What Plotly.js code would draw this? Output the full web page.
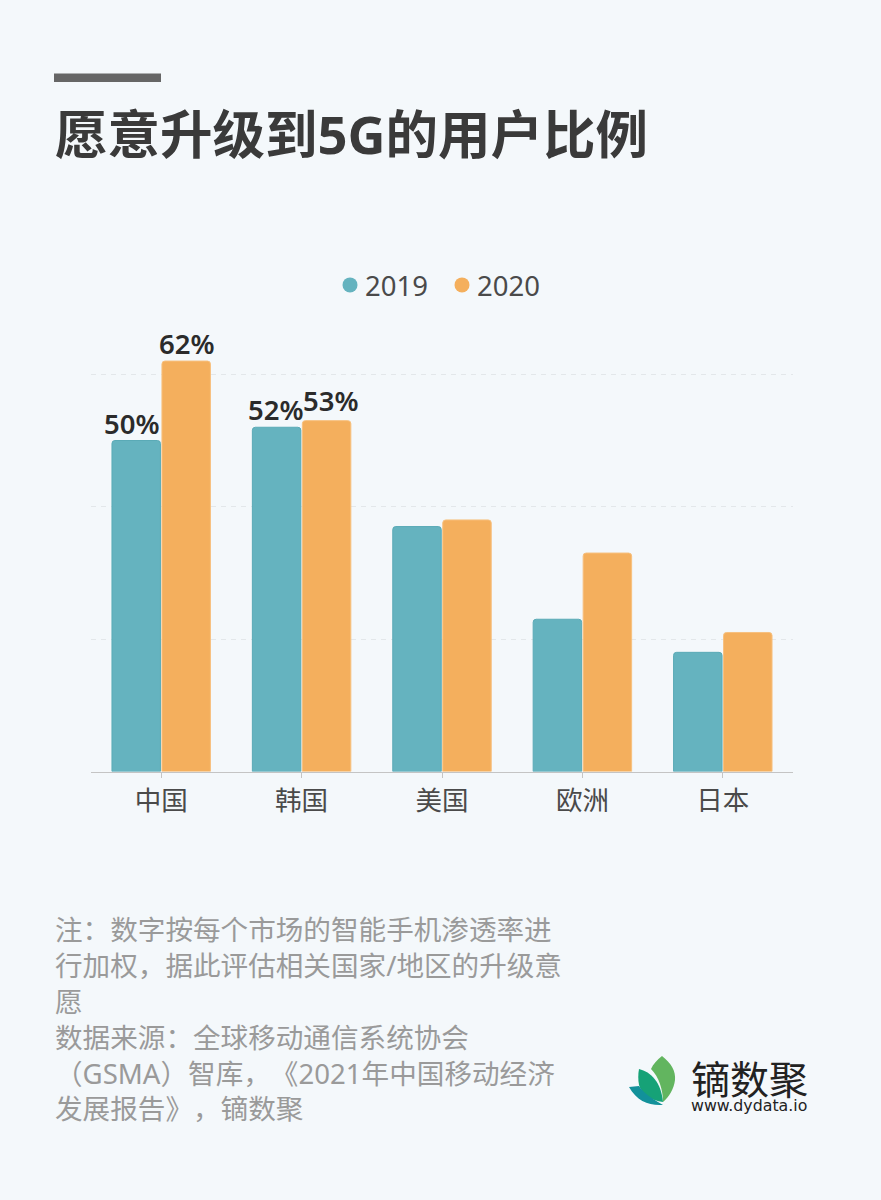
<!DOCTYPE html>
<html><head><meta charset="utf-8">
<script src="https://cdn.plot.ly/plotly-3.0.1.min.js"></script>
<style>html,body{margin:0;padding:0;background:#f4f8fb}
text{text-spacing-trim:space-all;font-feature-settings:"palt" 0}
.legend .legendpoints{transform:translateX(5px)}</style></head>
<body><div id="chart" style="width:881px;height:1200px"></div>
<script>
const categories = ["中国","韩国","美国","欧洲","日本"];
const values2019 = [50,52,37,23,18];
const values2020 = [62,53,38,33,21];
const labels2019 = ["50%","52%","","",""];
const labels2020 = ["62%","53%","","",""];
const labelNudge2019 = [-4,0,0,0,0];
const labelNudge2020 = [0,4,0,0,0];
const labelLift2019 = [-3,-3,0,0,0];
const labelLift2020 = [-3,0,0,0,0];
const seriesNames = ["2019","2020"];
const titleText = "愿意升级到5G的用户比例";
const noteText = "注：数字按每个市场的智能手机渗透率进<br>行加权，据此评估相关国家/地区的升级意<br>愿<br>数据来源：全球移动通信系统协会<br>（GSMA）智库，《2021年中国移动经济<br>发展报告》，镝数聚";
const logoName = "镝数聚";
const logoUrl = "www.dydata.io";

const W=881,H=1200;
const px=x=>x/W, py=y=>1-y/H;
const CJK='"Noto Sans","Noto Sans CJK SC",sans-serif';
const teal="#65b3bf", orange="#f4af5d";

const bar=(name,vals,col,line)=>({type:"bar",name,x:categories,y:vals,showlegend:false,
  marker:{color:col,line:{color:line,width:1}},hoverinfo:"skip"});
const key=(name,col)=>({type:"scatter",mode:"markers",name,x:[null],y:[null],
  marker:{color:col,size:15,symbol:"circle"},showlegend:true,hoverinfo:"skip"});
const traces=[bar(seriesNames[0],values2019,teal,"#5aaab6"),bar(seriesNames[1],values2020,orange,"#f7c07e"),
  key(seriesNames[0],teal),key(seriesNames[1],orange)];

const labelAnn=(vals,labels,nudges,lifts,side)=>labels.map((t,i)=>t?({
  x:categories[i],y:vals[i],xref:"x",yref:"y",text:t,showarrow:false,
  xshift:side*25.5+nudges[i],yshift:lifts[i],yanchor:"bottom",
  font:{family:CJK,size:27.5,color:"#2b2b2b",weight:600}}):null).filter(Boolean);

const logoSvg=`<svg xmlns="http://www.w3.org/2000/svg" width="50" height="52" viewBox="0 0 50 52">
<path d="M33 1 C42 8 47 16 46 25 C45 34 40 42 34 47 C34 35 30 22 22 14 C24 9 28 5 33 1Z" fill="#62b55f"/>
<path d="M10 14 C22 17 32 27 34 47 C22 46 12 38 10 30 C9 25 9 19 10 14Z" fill="#16a277"/>
<path d="M0 32 L10 31 C14 38 24 44 34 50 C20 51 8 46 0 32Z" fill="#12919a"/>
</svg>`;

const layout={width:W,height:H,margin:{l:0,r:0,t:0,b:0},paper_bgcolor:"#f4f8fb",plot_bgcolor:"rgba(0,0,0,0)",
  font:{family:CJK},
  title:{text:titleText,x:px(55),xanchor:"left",xref:"paper",y:py(136),yanchor:"middle",yref:"paper",
    font:{family:CJK,size:52.5,color:"#3a3a3a",weight:700}},
  barmode:"group",bargap:0.288,bargroupgap:0.03,barcornerradius:3,
  xaxis:{domain:[px(91),px(793)],tickfont:{family:CJK,size:26.5,color:"#4a4a4a"},ticks:"outside",ticklen:5,tickcolor:"#c4c4c4",tickwidth:1,
    ticklabelstandoff:0,showline:true,linecolor:"#c4c4c4",linewidth:1.5,showgrid:false,zeroline:false,fixedrange:true},
  yaxis:{domain:[py(771.5),py(308.1)],range:[0,70],tickvals:[20,40,60],showticklabels:false,ticks:"",showgrid:true,
    gridcolor:"#e3e7ea",griddash:"5px,5px",gridwidth:1,zeroline:false,showline:false,fixedrange:true},
  legend:{orientation:"h",x:px(325),xanchor:"left",y:py(285),yanchor:"middle",bgcolor:"rgba(0,0,0,0)",
    font:{family:CJK,size:27.5,color:"#4a4a4a"},itemwidth:30,entrywidth:67,entrywidthmode:"pixels"},
  shapes:[{type:"rect",xref:"paper",yref:"paper",x0:px(54),x1:px(161),y0:py(73.5),y1:py(82),fillcolor:"#666666",line:{width:0}}],
  images:[{source:"data:image/svg+xml;utf8,"+encodeURIComponent(logoSvg),xref:"paper",yref:"paper",
    x:px(629),y:py(1055),sizex:px(50),sizey:52/H,xanchor:"left",yanchor:"top",sizing:"contain",layer:"above"}],
  annotations:[
    ...labelAnn(values2019,labels2019,labelNudge2019,labelLift2019,-1),
    ...labelAnn(values2020,labels2020,labelNudge2020,labelLift2020,1),
    {x:px(52.5),y:py(908),xref:"paper",yref:"paper",xanchor:"left",yanchor:"top",align:"left",showarrow:false,text:noteText,
      font:{family:CJK,size:27.6,color:"#9a9a9a"}},
    {x:px(749),y:py(1078),xref:"paper",yref:"paper",xanchor:"center",yanchor:"middle",showarrow:false,text:logoName,
      font:{family:CJK,size:39,color:"#222222",weight:400}},
    {x:px(749),y:py(1105.5),xref:"paper",yref:"paper",xanchor:"center",yanchor:"middle",showarrow:false,text:logoUrl,
      font:{family:'"DejaVu Sans",sans-serif',size:15.8,color:"#222222"}}
  ]};
Plotly.newPlot("chart",traces,layout,{displayModeBar:false,staticPlot:true});
</script></body></html>
